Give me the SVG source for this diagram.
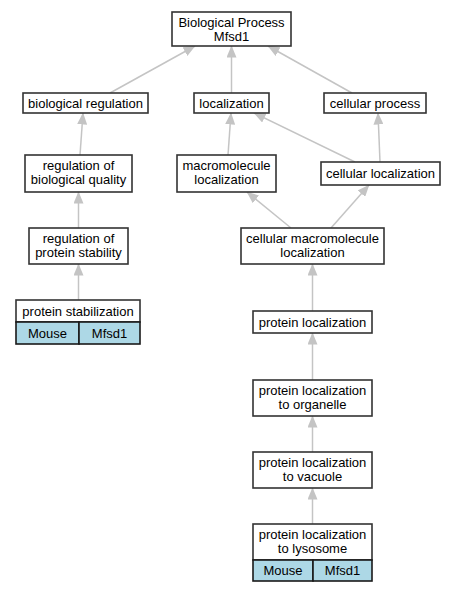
<svg xmlns="http://www.w3.org/2000/svg" width="457" height="592" viewBox="0 0 457 592">
<style>
.n rect{fill:#ffffff;stroke:#333333;stroke-width:1.6}
.n rect.c{fill:#add8e6;stroke:#1a1a1a}
.n line{stroke:#1a1a1a;stroke-width:1.4}
text{font-family:"Liberation Sans",Arial,sans-serif;font-size:13px;fill:#000;text-anchor:middle}
#edges line{stroke:#c4c4c4;stroke-width:1.5;marker-end:url(#ah)}
</style>
<defs>
<marker id="ah" markerUnits="userSpaceOnUse" markerWidth="12" markerHeight="10" refX="11.5" refY="5" orient="auto" viewBox="0 0 12 10">
<path d="M0,0 L12,5 L0,10 z" fill="#c4c4c4"/>
</marker>
</defs>
<rect width="457" height="592" fill="#ffffff"/>
<g id="edges">
<line x1="110" y1="93" x2="195" y2="46"/>
<line x1="231.5" y1="93" x2="231.5" y2="46"/>
<line x1="352" y1="93" x2="268" y2="46"/>
<line x1="80" y1="155" x2="83" y2="113"/>
<line x1="228" y1="155" x2="231" y2="113"/>
<line x1="355" y1="162" x2="254" y2="113"/>
<line x1="380" y1="162" x2="378" y2="113"/>
<line x1="78.5" y1="228" x2="78.5" y2="192"/>
<line x1="291" y1="228" x2="247" y2="192"/>
<line x1="331" y1="228" x2="369" y2="185"/>
<line x1="78.5" y1="300" x2="78.5" y2="264"/>
<line x1="312.5" y1="311" x2="312.5" y2="264"/>
<line x1="312.5" y1="380" x2="312.5" y2="333"/>
<line x1="312.5" y1="452" x2="312.5" y2="416"/>
<line x1="312.5" y1="524" x2="312.5" y2="488"/>
</g>
<g id="bp" class="n"><rect x="172" y="12" width="119" height="34"/><text x="231.5" y="26.5">Biological Process</text><text x="231.5" y="40.5">Mfsd1</text></g>
<g id="bioreg" class="n"><rect x="23" y="93" width="125" height="20"/><text x="85.5" y="107.5">biological regulation</text></g>
<g id="loc" class="n"><rect x="194" y="93" width="75" height="20"/><text x="231.5" y="107.5">localization</text></g>
<g id="cellproc" class="n"><rect x="324" y="93" width="102" height="20"/><text x="375" y="107.5">cellular process</text></g>
<g id="regbioq" class="n"><rect x="25" y="155" width="107" height="37"/><text x="78.5" y="169.5">regulation of</text><text x="78.5" y="184">biological quality</text></g>
<g id="macroloc" class="n"><rect x="177" y="155" width="99" height="37"/><text x="226.5" y="169.5">macromolecule</text><text x="226.5" y="184">localization</text></g>
<g id="cellloc" class="n"><rect x="321" y="162" width="119" height="23"/><text x="380.5" y="178">cellular localization</text></g>
<g id="regprot" class="n"><rect x="29" y="228" width="99" height="36"/><text x="78.5" y="242.5">regulation of</text><text x="78.5" y="256.5">protein stability</text></g>
<g id="cellmacro" class="n"><rect x="241" y="228" width="143" height="36"/><text x="312.5" y="242.5">cellular macromolecule</text><text x="312.5" y="256.5">localization</text></g>
<g id="protstab" class="n"><rect x="16" y="300" width="124" height="22"/><text x="78" y="315.5">protein stabilization</text><rect class="c" x="16" y="322" width="63" height="22"/><rect class="c" x="79" y="322" width="61" height="22"/><text x="47.5" y="337.5">Mouse</text><text x="109.5" y="337.5">Mfsd1</text></g>
<g id="protloc" class="n"><rect x="253" y="311" width="119" height="22"/><text x="312.5" y="326.5">protein localization</text></g>
<g id="organelle" class="n"><rect x="253" y="380" width="119" height="36"/><text x="312.5" y="394.5">protein localization</text><text x="312.5" y="408.5">to organelle</text></g>
<g id="vacuole" class="n"><rect x="253" y="452" width="119" height="36"/><text x="312.5" y="466.5">protein localization</text><text x="312.5" y="480.5">to vacuole</text></g>
<g id="lysosome" class="n"><rect x="253" y="524" width="119" height="36"/><text x="312.5" y="538.5">protein localization</text><text x="312.5" y="552.5">to lysosome</text><rect class="c" x="253" y="560" width="60" height="21"/><rect class="c" x="313" y="560" width="59" height="21"/><text x="283" y="575">Mouse</text><text x="342.5" y="575">Mfsd1</text></g>
</svg>
